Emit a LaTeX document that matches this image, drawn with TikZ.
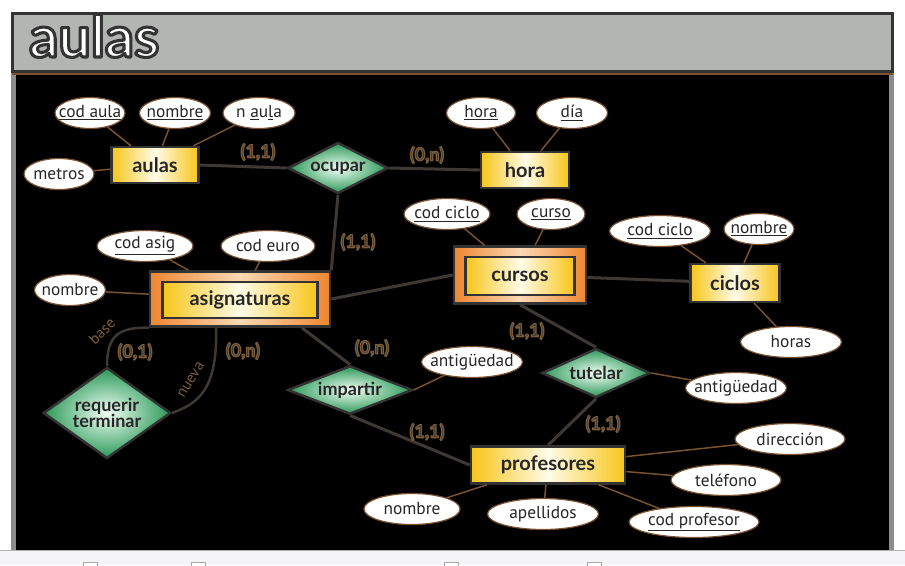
\documentclass[tikz,border=0pt]{standalone}
\usepackage{fontspec}
\setmainfont{PT Sans}
\newfontfamily\heavyfont{Lato}
\usetikzlibrary{shapes.geometric}
\newlength\px
\setlength\px{0.75pt}
\definecolor{titlegray}{HTML}{B3B5B3}
\definecolor{framegray}{HTML}{333333}
\definecolor{sidegray}{HTML}{8C8C8C}
\definecolor{stripgray}{HTML}{F5F5F8}
\definecolor{entgold}{HTML}{F8C51A}
\definecolor{entlight}{HTML}{FFFBE8}
\definecolor{weakorange}{HTML}{EE8630}
\definecolor{weaklight}{HTML}{FAD9B4}
\definecolor{relgreen}{HTML}{2A9857}
\definecolor{rellight}{HTML}{F2FFF6}
\definecolor{linkline}{HTML}{3E3934}
\definecolor{attrline}{HTML}{7A5230}
\definecolor{inktext}{HTML}{262626}
\definecolor{cardtext}{HTML}{3A3631}
\definecolor{cardedge}{HTML}{7A5C3A}
\tikzset{
  entity/.style={draw=framegray, line width=2.5\px, left color=entgold, right color=entgold,
    middle color=entlight, text=inktext, font=\heavyfont\bfseries\fontsize{15}{16}\selectfont},
  weakbox/.style={draw=framegray, line width=2.5\px, left color=weakorange, right color=weakorange,
    middle color=weaklight},
  relation/.style={diamond, draw=framegray, line width=2.5\px, inner sep=0pt, aspect=2,
    inner color=rellight, outer color=relgreen, text=inktext, align=center,
    font=\heavyfont\bfseries\fontsize{13.5}{15}\selectfont},
  attr/.style={ellipse, draw=attrline, line width=1.2\px, fill=white, inner xsep=-7pt,
    inner ysep=-3pt, minimum height=31\px, text=inktext, font=\fontsize{13}{14}\selectfont},
  card/.style={text=cardtext, font=\heavyfont\bfseries\fontsize{13.5}{15}\selectfont},
  rolename/.style={text=cardedge, font=\fontsize{11.5}{12}\selectfont},
  link/.style={draw=linkline, line width=3\px},
  attrlink/.style={draw=attrline, line width=1.5\px}
}
% outlined text: stroke colour (rgb), stroke width, text
\newcommand{\outlined}[3]{\special{pdf:literal direct #1 RG #2 w 1 j 2 Tr}#3\special{pdf:literal direct 0 Tr}}
\newcommand{\cardtxt}[1]{\outlined{0.48 0.36 0.23}{0.9}{#1}}
\begin{document}
\begin{tikzpicture}[x=0.75pt,y=-0.75pt]
\useasboundingbox (0,0) rectangle (905,565);
\fill[white] (0,0) rectangle (905,565);
% strip under the panel
\fill[stripgray] (0,550) rectangle (905,565);
\draw[gray!60, line width=1.5\px] (0,550.5) -- (905,550.5);
\foreach \x in {90,198,451,594}
  \draw[gray!70, fill=white, line width=1\px] (\x-7,562) rectangle (\x+7,570);
% panel
\fill[sidegray] (11,72) rectangle (894,550);
\fill[black] (16,75) rectangle (889,549.5);
\draw[attrline, line width=1.5\px] (12,74) -- (893,74);
\draw[framegray, line width=3\px, fill=titlegray] (12.5,13.5) rectangle (892.5,71.5);
\node[anchor=base west, inner sep=0pt, text=white, font=\heavyfont\bfseries\fontsize{43}{45}\selectfont]
  (title) at (29,57) {\outlined{0.2 0.2 0.2}{2.3}{aulas}};

% entities
\node[entity, minimum width=87\px, minimum height=36\px] (aulas) at (155,165) {aulas};
\node[entity, minimum width=88\px, minimum height=36\px] (hora) at (525,170) {hora};
\node[weakbox, minimum width=180\px, minimum height=55\px] (asig) at (240,299) {};
\node[entity, minimum width=155\px, minimum height=36\px] (asigin) at (240,300) {asignaturas};
\node[weakbox, minimum width=132\px, minimum height=57\px] (cursos) at (520,275) {};
\node[entity, minimum width=109\px, minimum height=38\px] (cursosin) at (520,276) {cursos};
\node[entity, minimum width=89\px, minimum height=38\px] (ciclos) at (735,283) {ciclos};
\node[entity, minimum width=154\px, minimum height=37\px] (prof) at (548,465) {profesores};

% relationships
\node[relation, minimum width=100\px, minimum height=51\px] (ocupar) at (338,168) {ocupar};
\node[relation, minimum width=125\px, minimum height=46\px] (impartir) at (350,390) {impartir};
\node[relation, minimum width=108\px, minimum height=49\px] (tutelar) at (596,373) {tutelar};
\node[relation, minimum width=126\px, minimum height=91\px] (requerir) at (107,413) {requerir\\[-3pt]terminar};

% attributes
\node[attr, minimum width=70\px] (codaula) at (90,113) {\underline{cod aula}};
\node[attr, minimum width=71\px] (nomaula) at (175,113) {\underline{nombre}};
\node[attr, minimum width=72\px] (naula) at (259,113) {n \underline{a}u\underline{l}a};
\node[attr, minimum width=70\px] (metros) at (59,174) {metros};
\node[attr, minimum width=69\px] (horaid) at (481,113) {\underline{hora}};
\node[attr, minimum width=71\px] (dia) at (572,113) {\underline{día}};
\node[attr, minimum width=86\px] (codcurso) at (447,214) {\underline{cod ciclo}};
\node[attr, minimum width=68\px] (curso) at (551,214) {\underline{curso}};
\node[attr, minimum width=101\px] (codciclo) at (660,231) {\underline{cod ciclo}};
\node[attr, minimum width=70\px] (nomciclo) at (759,229) {\underline{nombre}};
\node[attr, minimum width=101\px] (horas) at (791,342) {horas};
\node[attr, minimum width=96\px] (codasig) at (145,246) {\underline{cod asig}};
\node[attr, minimum width=94\px] (codeuro) at (268,246) {cod euro};
\node[attr, minimum width=71\px] (nomasig) at (70,290) {nombre};
\node[attr, minimum width=101\px] (antimp) at (472,362) {antigüedad};
\node[attr, minimum width=101\px] (anttut) at (736,388) {antigüedad};
\node[attr, minimum width=110\px] (direccion) at (790,439) {dirección};
\node[attr, minimum width=110\px] (telefono) at (726,480) {teléfono};
\node[attr, minimum width=130\px] (codprof) at (694,522) {\underline{cod profesor}};
\node[attr, minimum width=111\px] (apellidos) at (543,514) {apellidos};
\node[attr, minimum width=96\px] (nomprof) at (412,509) {nombre};

% links between entities and relationships
\draw[link] (aulas.east) -- (ocupar.west);
\draw[link] (ocupar.east) -- (hora.west);
\draw[link] (ocupar.south) -- (asig.north east);
\draw[link] (asig.east) -- (cursos.west);
\draw[link] (cursos) -- (ciclos);
\draw[link] (cursos.south) -- (tutelar.north);
\draw[link] (tutelar.south) -- (prof.north);
\draw[link] ([xshift=-22pt]asig.south east) -- (impartir.north);
\draw[link] (impartir.south) -- (prof.west);
\draw[link, line width=2.5\px] (asig.south west) .. controls (118,327) and (107,336) .. (requerir.north);
\draw[link, line width=2.5\px] ([xshift=-18pt]asig.south) .. controls (218,392) and (196,404) .. (requerir.east);

% attribute links
\foreach \a/\e in {codaula/aulas, nomaula/aulas, naula/aulas, metros/aulas,
    horaid/hora, dia/hora, codcurso/cursos, curso/cursos,
    codciclo/ciclos, nomciclo/ciclos, horas/ciclos,
    codasig/asig, codeuro/asig, nomasig/asig,
    direccion/prof, telefono/prof, codprof/prof, apellidos/prof, nomprof/prof}
  \draw[attrlink] (\a) -- (\e);
\draw[attrlink] (impartir.east) -- (antimp);
\draw[attrlink] (tutelar.east) -- (anttut);

% cardinalities and roles
\node[card] (c1) at (258,152) {\cardtxt{(1,1)}};
\node[card] (c2) at (427,155) {\cardtxt{(0,n)}};
\node[card] (c3) at (358,242) {\cardtxt{(1,1)}};
\node[card] (c4) at (372,348) {\cardtxt{(0,n)}};
\node[card] (c5) at (135,352) {\cardtxt{(0,1)}};
\node[card] (c6) at (243,351) {\cardtxt{(0,n)}};
\node[card] (c7) at (527,331) {\cardtxt{(1,1)}};
\node[card] (c8) at (603,424) {\cardtxt{(1,1)}};
\node[card] (c9) at (427,432) {\cardtxt{(1,1)}};
\node[rolename, rotate=45] (base) at (102,331) {base};
\node[rolename, rotate=58] (nueva) at (191,380) {nueva};
\end{tikzpicture}
\end{document}
